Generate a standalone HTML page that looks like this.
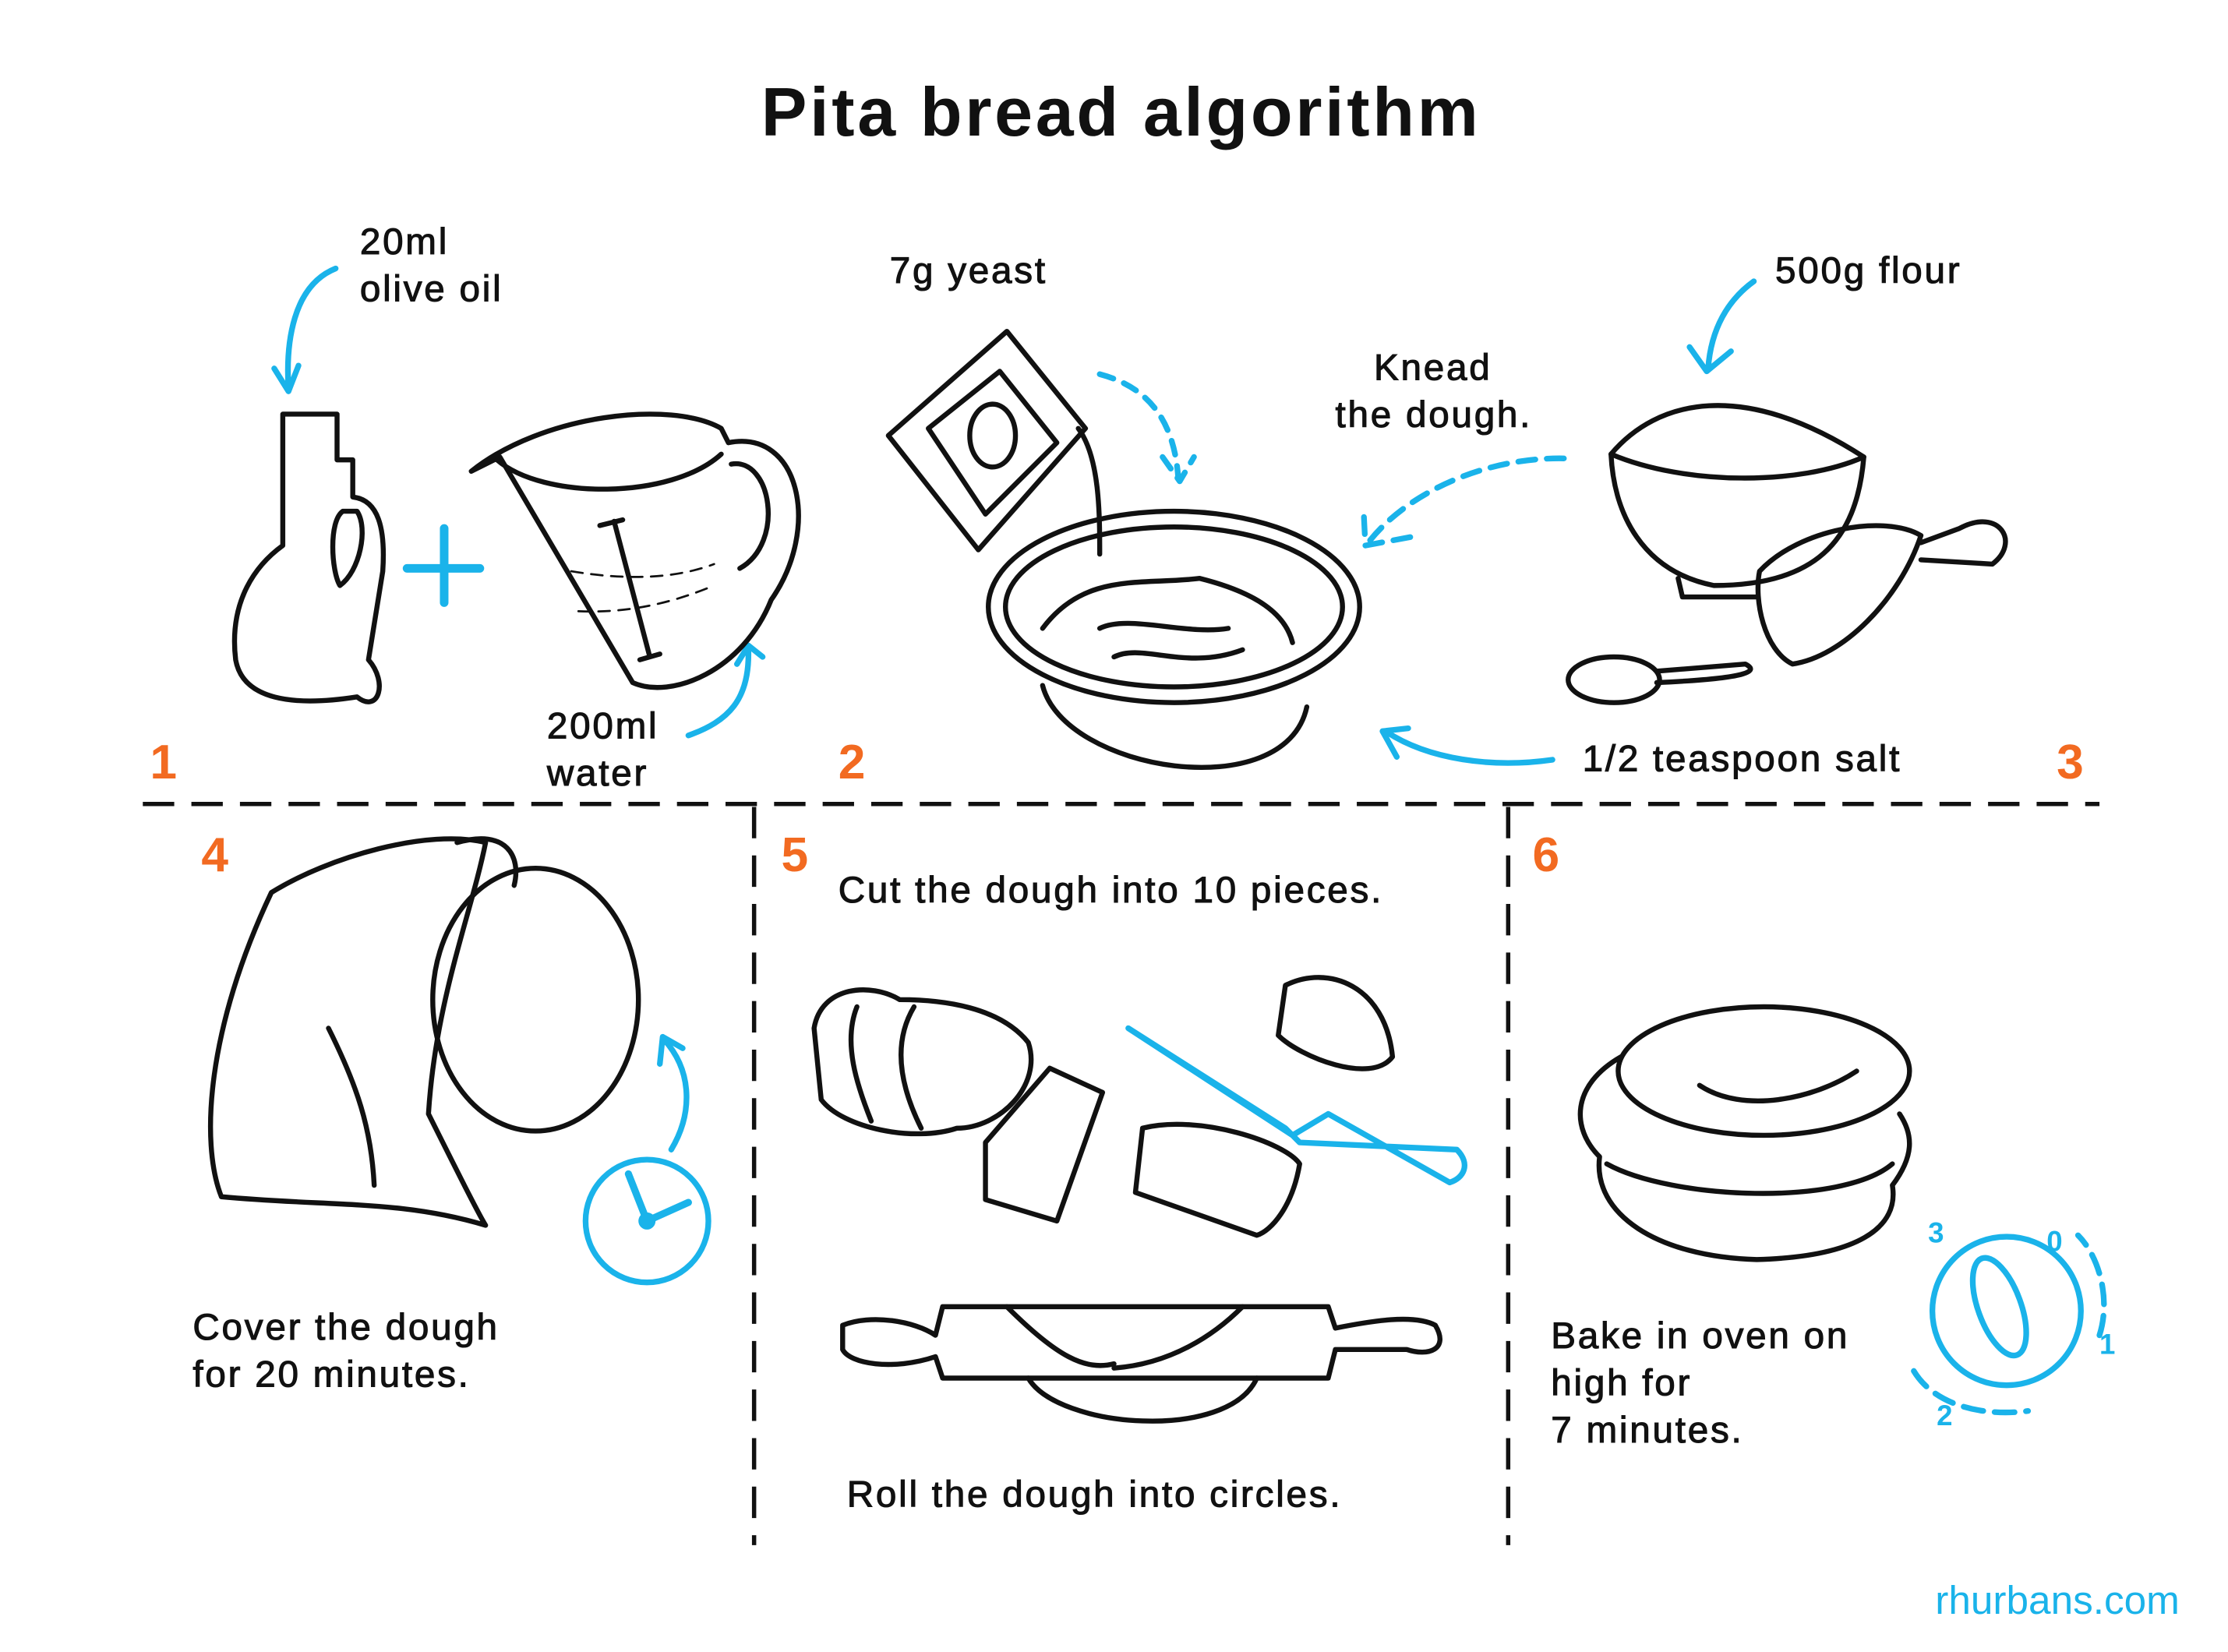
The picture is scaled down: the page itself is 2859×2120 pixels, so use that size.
<!DOCTYPE html>
<html><head><meta charset="utf-8"><style>
html,body{margin:0;padding:0;background:#fff;}
svg{display:block;}
text{font-family:"Liberation Sans",sans-serif;fill:#111;}
.t{font-size:26px;letter-spacing:1.5px;stroke:#111;stroke-width:0.6px;}
.n{font-size:34px;font-weight:bold;fill:#f26a21;}
.k{fill:none;stroke:#111;stroke-width:3.5;stroke-linecap:round;stroke-linejoin:round;}
.b{fill:none;stroke:#1ab3ea;stroke-width:4;stroke-linecap:round;stroke-linejoin:round;}
.d{fill:none;stroke:#111;stroke-width:3;stroke-dasharray:22 12;}
</style></head><body>
<svg width="2859" height="2120" viewBox="0 0 1560 1156.8" preserveAspectRatio="none">
<text x="785" y="95" text-anchor="middle" style="font-size:48px;letter-spacing:2px;font-weight:bold">Pita bread algorithm</text>

<line class="d" x1="100" y1="563" x2="1470" y2="563"/>
<line class="d" x1="528" y1="565" x2="528" y2="1082"/>
<line class="d" x1="1056" y1="565" x2="1056" y2="1082"/>

<text class="n" x="105" y="545">1</text><text class="n" x="587" y="545">2</text><text class="n" x="1440" y="545">3</text>
<text class="n" x="141" y="610">4</text><text class="n" x="547" y="610">5</text><text class="n" x="1073" y="610">6</text>

<text class="t" x="252" y="178">20ml</text><text class="t" x="252" y="211">olive oil</text>
<text class="t" x="623" y="198">7g yeast</text>
<text class="t" x="962" y="266">Knead</text><text class="t" x="935" y="299">the dough.</text>
<text class="t" x="1243" y="198">500g flour</text>
<text class="t" x="383" y="517">200ml</text><text class="t" x="383" y="550">water</text>
<text class="t" x="1108" y="540">1/2 teaspoon salt</text>
<text class="t" x="587" y="632">Cut the dough into 10 pieces.</text>
<text class="t" x="135" y="938">Cover the dough</text><text class="t" x="135" y="971">for 20 minutes.</text>
<text class="t" x="593" y="1055">Roll the dough into circles.</text>
<text class="t" x="1086" y="944">Bake in oven on</text><text class="t" x="1086" y="977">high for</text><text class="t" x="1086" y="1010">7 minutes.</text>
<text x="1355" y="1130" style="font-size:28px;fill:#1ab3ea">rhurbans.com</text>

<path class="b" d="M235 188 C205 200 200 240 202 272 M192 258 L202 274 L209 256"/>
<path class="b" d="M285 398 H336 M311 370 V422" style="stroke-width:6"/>
<path class="b" d="M482 515 C510 505 525 490 524 455 M516 465 L524 452 L534 460"/>
<path class="b" d="M770 262 C800 270 822 290 825 335 M814 320 L826 337 L836 320" stroke-dasharray="10 8"/>
<path class="b" d="M1095 321 C1040 320 985 345 958 380 M955 362 L956 382 L988 376" stroke-dasharray="12 8"/>
<path class="b" d="M1228 197 C1210 210 1198 230 1196 258 M1183 243 L1195 260 L1212 246"/>
<path class="b" d="M1087 532 C1045 538 1000 532 970 512 M986 510 L968 512 L978 530"/>
<path class="b" d="M470 805 C485 780 485 750 465 728 M462 745 L464 726 L478 734"/>

<path class="k" d="M198 290 H236 V322 H247 V348 C265 350 270 370 268 400 L258 462 C272 478 265 500 250 488 C205 495 170 490 165 462 C160 420 180 395 198 382 V310 Z"/>
<path class="k" d="M240 358 C230 365 232 400 238 410 C252 400 258 370 250 358 Z"/>
<path class="k" d="M330 330 C380 290 470 280 505 300 L510 310 C560 300 575 370 540 420 C520 470 470 490 443 478 L350 320 Z"/>
<path class="k" d="M348 322 C380 350 470 350 505 318 M512 325 C540 320 550 380 518 398 M430 365 L455 460 M420 368 L436 364 M448 462 L462 458"/>
<path class="k" d="M400 400 Q460 410 500 395 M405 428 Q450 430 495 412" stroke-dasharray="8 6" style="stroke-width:1.5"/>

<path class="k" d="M622 305 L705 232 L760 300 L685 385 Z M650 300 L700 260 L740 310 L690 360 Z"/>
<ellipse class="k" cx="695" cy="305" rx="16" ry="22"/>
<path class="k" d="M755 300 C770 320 770 360 770 388"/>
<ellipse class="k" cx="822" cy="425" rx="130" ry="67"/>
<ellipse class="k" cx="822" cy="425" rx="118" ry="56"/>
<path class="k" d="M730 480 C745 540 900 565 915 495"/>
<path class="k" d="M730 440 C760 400 800 410 840 405 C880 415 900 430 905 450 M770 440 C790 430 830 445 860 440 M780 460 C800 450 830 470 870 455"/>
<path class="k" d="M1128 318 C1160 280 1220 265 1305 320 C1300 380 1270 410 1200 410 C1150 400 1130 360 1128 318 Z"/>
<path class="k" d="M1128 318 C1180 340 1260 340 1305 320 M1175 405 L1178 418 H1230"/>
<path class="k" d="M1232 400 C1260 370 1320 360 1345 375 C1330 420 1290 460 1255 465 C1235 455 1228 420 1232 400 Z M1345 380 L1372 370 C1400 355 1415 380 1395 395 L1345 392"/>
<ellipse class="k" cx="1130" cy="476" rx="32" ry="16"/>
<path class="k" d="M1160 470 L1222 465 C1232 470 1225 475 1160 478"/>

<ellipse class="k" cx="375" cy="700" rx="72" ry="92"/>
<path class="k" d="M190 625 C230 600 300 580 340 590 C330 640 305 700 300 780 C320 820 335 850 340 858 C280 840 230 845 155 838 C140 800 145 720 190 625 Z"/>
<path class="k" d="M320 590 C355 580 365 600 360 620 M230 720 C250 760 260 790 262 830"/>
<circle class="b" cx="453" cy="855" r="43"/>
<path class="b" d="M453 855 L440 822 M453 855 L482 842" style="stroke-width:5"/>
<circle cx="453" cy="855" r="6" fill="#1ab3ea"/>

<path class="k" d="M570 720 C575 690 610 688 630 700 C660 700 700 705 720 730 C730 760 700 790 670 790 C640 800 590 790 575 770 Z"/>
<path class="k" d="M600 705 C590 730 600 760 610 785 M640 705 C625 730 630 760 645 790"/>
<path class="k" d="M690 800 L735 748 L772 765 L740 855 L690 840 Z"/>
<path class="k" d="M800 790 C840 780 900 800 910 815 C905 845 890 862 880 865 L795 835 Z"/>
<path class="k" d="M900 690 C930 675 970 690 975 740 C960 760 910 740 895 725 Z"/>
<path class="b" d="M790 720 L900 790 L910 800 L1020 805 C1030 815 1025 825 1015 828 L930 780 L905 795 Z"/>
<path class="k" d="M590 928 C610 920 640 925 655 935 L660 915 L930 915 L935 930 C960 925 990 920 1005 928 C1015 945 1000 950 985 945 L935 945 L930 965 L660 965 L655 950 C625 960 595 955 590 945 Z"/>
<path class="k" d="M720 965 C740 1000 860 1010 880 965 M705 915 C740 950 760 960 780 955 M870 915 C850 935 820 955 780 958"/>

<ellipse class="k" cx="1235" cy="750" rx="102" ry="45"/>
<path class="k" d="M1135 740 C1100 760 1100 790 1120 810 C1115 850 1160 880 1230 882 C1300 880 1330 860 1325 830 C1340 810 1340 795 1330 780"/>
<path class="k" d="M1125 815 C1170 840 1290 845 1325 815 M1190 760 C1220 780 1270 770 1300 750"/>
<circle class="b" cx="1405" cy="918" r="52"/>
<path class="b" d="M1340 960 C1355 985 1390 992 1420 988 M1470 935 C1478 910 1470 880 1455 865" stroke-dasharray="14 8"/>
<ellipse class="b" cx="1400" cy="915" rx="15" ry="36" transform="rotate(-20 1400 915)"/>
<text x="1350" y="870" style="font-size:20px;font-weight:bold;fill:#1ab3ea">3</text>
<text x="1433" y="876" style="font-size:20px;font-weight:bold;fill:#1ab3ea">0</text>
<text x="1470" y="948" style="font-size:20px;font-weight:bold;fill:#1ab3ea">1</text>
<text x="1356" y="998" style="font-size:20px;font-weight:bold;fill:#1ab3ea">2</text>
</svg>
</body></html>
